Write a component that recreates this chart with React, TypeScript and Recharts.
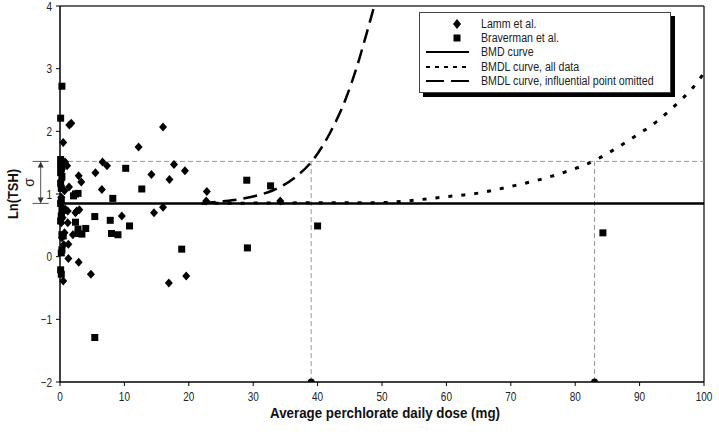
import React from 'react';
import { ComposedChart, Scatter, Line, XAxis, YAxis, ReferenceLine, Legend, Label } from 'recharts';

// no condensed face installed, so text is squeezed horizontally
const FONT = "'Liberation Sans', Arial, sans-serif";
const SQUEEZE = 0.8;

// Lamm et al. (diamonds)
const lammDose = [0.5, 1.45, 1.75, 16.0, 12.2, 6.6, 7.3, 17.7, 19.4, 5.5, 14.2, 2.9, 3.3, 17.0, 1.4, 6.5, 0.8, 1.1, 0.3, 0.2, 0.7, 22.8, 22.7, 34.2, 16.0, 14.6, 9.6, 0.8, 0.3, 1.2, 2.4, 3.0, 2.6, 1.2, 0.2, 2.0, 0.7, 0.6, 1.3, 1.3, 2.9, 4.8, 0.5, 16.9, 19.6, 0.3, 0.2, 0.4];
const lammTsh = [1.82, 2.10, 2.13, 2.07, 1.75, 1.51, 1.45, 1.47, 1.37, 1.34, 1.31, 1.29, 1.19, 1.23, 1.11, 1.07, 1.51, 1.45, 1.40, 1.22, 1.05, 1.04, 0.89, 0.89, 0.79, 0.70, 0.65, 0.76, 0.69, 0.73, 0.70, 0.75, 0.73, 0.54, 0.54, 0.35, 0.38, 0.19, 0.20, -0.03, -0.09, -0.28, -0.39, -0.42, -0.31, 0.30, 0.95, 0.62];

// Braverman et al. (squares)
const bravDose = [0.3, 0.1, 0.1, 0.2, 0.1, 0.2, 0.1, 0.3, 0.1, 0.2, 0.1, 0.2, 10.2, 12.7, 8.2, 2.4, 2.8, 2.1, 5.4, 7.8, 10.8, 8.0, 9.0, 4.0, 2.4, 2.8, 3.4, 2.8, 0.3, 0.5, 0.3, 0.2, 0.1, 0.2, 0.1, 18.9, 5.4, 29.0, 32.7, 29.1, 40.0, 84.3, 0.3, 0.2];
const bravTsh = [2.72, 2.21, 1.55, 1.50, 1.45, 1.40, 1.34, 1.28, 1.17, 1.09, 0.85, 0.90, 1.41, 1.08, 0.93, 1.00, 1.01, 0.97, 0.64, 0.58, 0.49, 0.37, 0.35, 0.45, 0.55, 0.44, 0.36, 0.37, 0.35, 0.33, 0.11, 0.06, -0.21, -0.28, 0.57, 0.12, -1.29, 1.22, 1.13, 0.14, 0.49, 0.38, 0.75, 0.65];

// curves
const bmdDose = [0, 100];
const bmdTsh = [0.85, 0.85];
const bmdlAllDose = [22, 30, 40, 49.7, 54.9, 60, 64.7, 70.4, 74.5, 78.7, 82.3, 85.9, 89, 92.7, 95.8, 98.3, 100];
const bmdlAllTsh = [0.85, 0.855, 0.86, 0.862, 0.9, 0.957, 1.01, 1.13, 1.23, 1.36, 1.5, 1.7, 1.9, 2.16, 2.44, 2.7, 2.93];
const bmdlOmitDose = [22, 25, 30, 33.1, 36.7, 39.1, 41.9, 44.3, 46.1, 47.6, 48.8];
const bmdlOmitTsh = [0.85, 0.88, 0.96, 1.06, 1.28, 1.52, 1.97, 2.5, 3.03, 3.56, 4.0];

// BMD / BMDL values marked on the x axis, and the BMD + sigma level
const bmdMarks = [39, 83];
const bmdLevel = 0.85;
const sigmaLevel = 1.52;

const xTicks = [0, 10, 20, 30, 40, 50, 60, 70, 80, 90, 100];
const yTicks = [-2, -1, 0, 1, 2, 3, 4];

const LEGEND_ITEMS = [
  { name: 'Lamm et al.', kind: 'diamond' },
  { name: 'Braverman et al.', kind: 'square' },
  { name: 'BMD curve', kind: 'solid' },
  { name: 'BMDL curve, all data', kind: 'dotted' },
  { name: 'BMDL curve, influential point omitted', kind: 'dashed' },
];

const zip = (xs: number[], ys: number[]) => xs.map((x, i) => ({ x, y: ys[i] }));

const lammData = zip(lammDose, lammTsh);
const bravData = zip(bravDose, bravTsh);
const bmdData = zip(bmdDose, bmdTsh);
const bmdlAllData = zip(bmdlAllDose, bmdlAllTsh);
const bmdlOmitData = zip(bmdlOmitDose, bmdlOmitTsh);
const markData = bmdMarks.map((x) => ({ x, y: -2 }));

const Diamond = (p: any) => (
  <polygon
    points={`${p.cx},${p.cy - 4.5} ${p.cx + 4},${p.cy} ${p.cx},${p.cy + 4.5} ${p.cx - 4},${p.cy}`}
    fill="#000"
  />
);
const Square = (p: any) => <rect x={p.cx - 3.5} y={p.cy - 3.5} width={7} height={7} fill="#000" />;
const Dot = (p: any) => <circle cx={p.cx} cy={p.cy} r={3.5} fill="#000" />;

const XTick = (p: any) => (
  <text
    transform={`translate(${p.x},${p.y}) scale(${SQUEEZE},1)`}
    textAnchor="middle"
    dy="0.71em"
    fontFamily={FONT}
    fontSize={12.5}
    fill="#222"
  >
    {p.payload.value}
  </text>
);

const YTick = (p: any) => (
  <text
    transform={`translate(${p.x},${p.y}) scale(${SQUEEZE},1)`}
    textAnchor="end"
    dy="0.36em"
    fontFamily={FONT}
    fontSize={12.5}
    fill="#222"
  >
    {p.payload.value < 0 ? `\u2212${Math.abs(p.payload.value)}` : p.payload.value}
  </text>
);

const SigmaBracket = (p: any) => {
  const { x1, y1, x2, y2 } = p;
  const top = Math.min(y1, y2);
  const bot = Math.max(y1, y2);
  return (
    <g>
      <line x1={x1 - 8} x2={x1 + 8} y1={top} y2={top} stroke="#555" strokeWidth={1} />
      <line x1={x1 - 8} x2={x1 + 8} y1={bot} y2={bot} stroke="#555" strokeWidth={1} />
      <line x1={x1} x2={x2} y1={top + 4} y2={bot - 4} stroke="#555" strokeWidth={1} />
      <polygon points={`${x1},${top} ${x1 - 3},${top + 6} ${x1 + 3},${top + 6}`} fill="#333" />
      <polygon points={`${x1},${bot} ${x1 - 3},${bot - 6} ${x1 + 3},${bot - 6}`} fill="#333" />
      <text
        transform={`translate(${x1 - 7},${(top + bot) / 2}) rotate(-90)`}
        textAnchor="middle"
        fontFamily={FONT}
        fontSize={14}
        fill="#222"
      >
        σ
      </text>
    </g>
  );
};

const LegendBox = () => (
  <div
    style={{
      background: '#fff',
      border: '1px solid #444',
      boxShadow: '4px 4px 0 #000',
      padding: '4px 0 4px 5px',
      fontFamily: FONT,
      fontSize: 12.5,
      color: '#222',
      width: 252,
      boxSizing: 'border-box',
    }}
  >
    {LEGEND_ITEMS.map((it) => (
      <div key={it.name} style={{ display: 'flex', alignItems: 'center', height: 14.2, whiteSpace: 'nowrap' }}>
        <svg width={50} height={12} style={{ marginRight: 6, flexShrink: 0 }}>
          {it.kind === 'diamond' && <polygon points="32,1 36,6 32,11 28,6" fill="#000" />}
          {it.kind === 'square' && <rect x={28.5} y={2.5} width={7} height={7} fill="#000" />}
          {it.kind === 'solid' && <line x1={1} x2={44} y1={6} y2={6} stroke="#000" strokeWidth={2} />}
          {it.kind === 'dotted' && (
            <line x1={1} x2={44} y1={6} y2={6} stroke="#000" strokeWidth={2} strokeDasharray="4 5" />
          )}
          {it.kind === 'dashed' && (
            <line x1={1} x2={44} y1={6} y2={6} stroke="#000" strokeWidth={2} strokeDasharray="18 7" />
          )}
        </svg>
        <span style={{ display: 'inline-block', transform: 'scaleX(0.85)', transformOrigin: 'left center' }}>
          {it.name}
        </span>
      </div>
    ))}
  </div>
);

export default function App() {
  return (
    <div style={{ position: 'absolute', left: 0, top: 0, background: '#fff' }}>
      <ComposedChart width={719} height={435} margin={{ top: 6, right: 15, bottom: 0, left: 0 }}>
        <XAxis
          dataKey="x"
          type="number"
          domain={[0, 100]}
          ticks={xTicks}
          interval={0}
          tick={XTick}
          tickSize={4}
          tickMargin={6}
          height={53}
          axisLine={{ stroke: '#000', strokeWidth: 1.5 }}
          tickLine={{ stroke: '#000' }}
        >
          <Label
            content={(p: any) => (
              <text
                x={p.viewBox.x + p.viewBox.width / 2 + 3}
                y={p.viewBox.y + 36}
                textAnchor="middle"
                textLength={230}
                lengthAdjust="spacingAndGlyphs"
                fontFamily={FONT}
                fontSize={14.5}
                fontWeight="bold"
                fill="#111"
              >
                Average perchlorate daily dose (mg)
              </text>
            )}
          />
        </XAxis>
        <YAxis
          type="number"
          domain={[-2, 4]}
          ticks={yTicks}
          interval={0}
          width={60}
          tick={YTick}
          tickSize={4}
          tickMargin={4}
          axisLine={{ stroke: '#000', strokeWidth: 1.5 }}
          tickLine={{ stroke: '#000' }}
          allowDataOverflow
        >
          <Label
            content={(p: any) => (
              <text
                transform={`translate(${p.viewBox.x + 18},${p.viewBox.y + p.viewBox.height / 2}) rotate(-90)`}
                textAnchor="middle"
                textLength={50}
                lengthAdjust="spacingAndGlyphs"
                fontFamily={FONT}
                fontSize={15}
                fontWeight="bold"
                fill="#111"
              >
                Ln(TSH)
              </text>
            )}
          />
        </YAxis>

        <ReferenceLine y={4} stroke="#333" strokeWidth={1.5} />
        <ReferenceLine x={100} stroke="#333" strokeWidth={1.5} />
        <ReferenceLine y={sigmaLevel} stroke="#999" strokeDasharray="5 3" strokeWidth={1} />
        {bmdMarks.map((m) => (
          <ReferenceLine
            key={m}
            segment={[{ x: m, y: -2 }, { x: m, y: sigmaLevel }]}
            stroke="#999"
            strokeDasharray="5 3"
            strokeWidth={1}
          />
        ))}
        <ReferenceLine
          segment={[{ x: -3, y: bmdLevel }, { x: -3, y: sigmaLevel }]}
          ifOverflow="visible"
          shape={SigmaBracket}
        />

        <Line
          data={bmdData}
          dataKey="y"
          type="linear"
          stroke="#000"
          strokeWidth={2.5}
          dot={false}
          isAnimationActive={false}
        />
        <Line
          data={bmdlAllData}
          dataKey="y"
          type="monotone"
          stroke="#000"
          strokeWidth={3}
          strokeDasharray="4 9"
          dot={false}
          isAnimationActive={false}
        />
        <Line
          data={bmdlOmitData}
          dataKey="y"
          type="monotone"
          stroke="#000"
          strokeWidth={2.5}
          strokeDasharray="14 7"
          dot={false}
          isAnimationActive={false}
        />
        <Scatter data={lammData} dataKey="y" shape={Diamond} isAnimationActive={false} />
        <Scatter data={bravData} dataKey="y" shape={Square} isAnimationActive={false} />
        <Scatter data={markData} dataKey="y" shape={Dot} isAnimationActive={false} />

        <Legend
          layout="vertical"
          align="center"
          verticalAlign="middle"
          content={() => <LegendBox />}
          wrapperStyle={{ left: 419, top: 12, width: 252, height: 'auto' }}
        />
      </ComposedChart>
    </div>
  );
}
